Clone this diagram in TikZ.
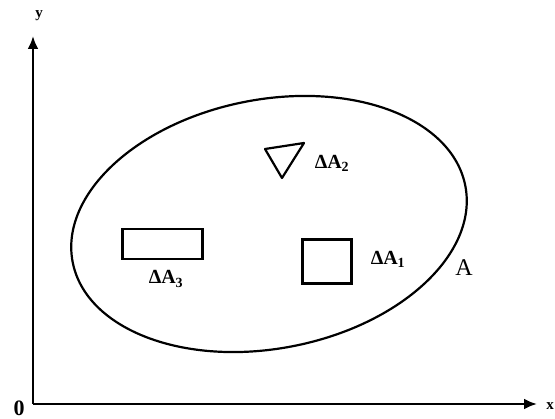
\documentclass[tikz,border=0pt]{standalone}
\usepackage{fontspec}
\setmainfont{Liberation Serif}
\usetikzlibrary{arrows.meta}
\begin{document}
\begin{tikzpicture}[x=1pt,y=-1pt,
  ln/.style={line width=2.2pt,black},
  ax/.style={line width=2.6pt,-{Latex[length=13pt,width=11pt]}},
  lbl/.style={font=\fontsize{20}{20}\selectfont\bfseries,inner sep=0pt}]
\useasboundingbox[fill=white] (0,0) rectangle (555,419);
\coordinate (O) at (33,404);
\coordinate (Y) at (33,36);
\coordinate (X) at (537,404);
\draw[ax] (O) -- (Y);
\draw[ax] (O) -- (X);
\node[inner sep=0pt,font=\fontsize{15}{15}\selectfont\bfseries] (ylab) at (39,16) {y};
\node[inner sep=0pt,font=\fontsize{15}{15}\selectfont\bfseries] (xlab) at (550,406) {x};
\node[inner sep=0pt,font=\fontsize{22}{22}\selectfont\bfseries] (zero) at (19,408) {0};
\draw[ln,rotate around={11:(269,224)}] (269,224) ellipse [x radius=200, y radius=124.5];
\node[draw,ln,minimum width=80pt,minimum height=30pt,inner sep=0pt] (r3) at (162.5,244) {};
\node[lbl] (l3) at (166,279) {ΔA\textsubscript{3}};
\node[draw,ln,minimum width=49pt,minimum height=44pt,inner sep=0pt] (r1) at (327,261.5) {};
\node[lbl] (l1) at (388,259) {ΔA\textsubscript{1}};
\coordinate (t1) at (265,149);
\coordinate (t2) at (304,143);
\coordinate (t3) at (282,178);
\draw[ln,line join=round] (t1) -- (t2) -- (t3) -- cycle;
\node[lbl] (l2) at (332,163) {ΔA\textsubscript{2}};
\node[inner sep=0pt,font=\fontsize{24}{24}\selectfont] (A) at (464,268) {A};
\end{tikzpicture}
\end{document}
